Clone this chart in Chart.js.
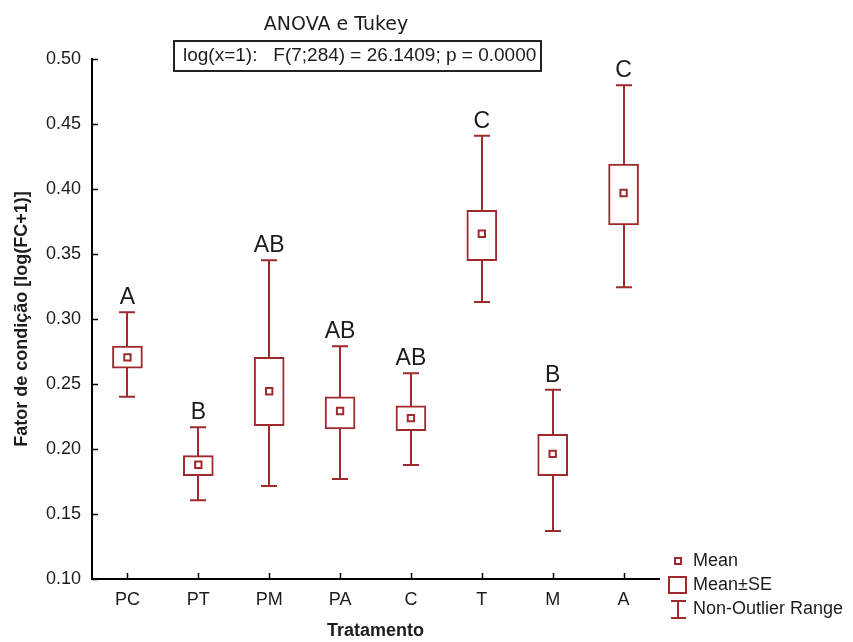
<!DOCTYPE html>
<html>
<head>
<meta charset="utf-8">
<script src="https://cdn.jsdelivr.net/npm/chart.js@4/dist/chart.umd.min.js"></script>
<style>
  html, body { margin: 0; padding: 0; background: #ffffff; }
  #wrap { width: 853px; height: 642px; position: relative; }
</style>
</head>
<body>
<div id="wrap"><canvas id="chart" width="853" height="642"></canvas></div>
<script>
// Treatments and summary statistics of the condition factor, log(FC+1)
const categories = ['PC', 'PT', 'PM', 'PA', 'C', 'T', 'M', 'A'];
const means      = [0.2705, 0.1879, 0.2444, 0.2292, 0.2238, 0.3656, 0.1962, 0.3969];
const seLow      = [0.2621, 0.1795, 0.2180, 0.2154, 0.2141, 0.3449, 0.1795, 0.3723];
const seHigh     = [0.2792, 0.1949, 0.2705, 0.2402, 0.2333, 0.3836, 0.2113, 0.4192];
const rangeLow   = [0.2402, 0.1605, 0.1715, 0.1769, 0.1877, 0.3131, 0.1369, 0.3244];
const rangeHigh  = [0.3052, 0.2167, 0.3452, 0.2790, 0.2582, 0.4410, 0.2456, 0.4798];
const tukeyGroups = ['A', 'B', 'AB', 'AB', 'AB', 'C', 'B', 'C'];
const yTicks     = [0.10, 0.15, 0.20, 0.25, 0.30, 0.35, 0.40, 0.45, 0.50];

const RED = '#9e2a2d';
const TEXT = '#1c1c1c';
const SANS = '"Liberation Sans", Arial, sans-serif';

// Non-outlier range whiskers, drawn behind the mean±SE boxes
const whiskerPlugin = {
  id: 'whiskers',
  beforeDatasetsDraw(chart) {
    const { ctx, scales: { x, y } } = chart;
    ctx.save();
    ctx.strokeStyle = RED;
    ctx.lineWidth = 2;
    categories.forEach((c, i) => {
      const cx = Math.round(x.getPixelForValue(i));
      const yTop = y.getPixelForValue(rangeHigh[i]);
      const yBot = y.getPixelForValue(rangeLow[i]);
      ctx.beginPath();
      ctx.moveTo(cx, yTop); ctx.lineTo(cx, yBot);
      ctx.moveTo(cx - 8, yTop); ctx.lineTo(cx + 8, yTop);
      ctx.moveTo(cx - 8, yBot); ctx.lineTo(cx + 8, yBot);
      ctx.stroke();
    });
    ctx.restore();
  },
  afterDatasetsDraw(chart) {
    const { ctx, scales: { x, y } } = chart;
    ctx.save();
    // Tukey group letters above each whisker
    ctx.fillStyle = TEXT;
    ctx.font = '23px ' + SANS;
    ctx.textAlign = 'center';
    ctx.textBaseline = 'alphabetic';
    categories.forEach((c, i) => {
      const cx = x.getPixelForValue(i);
      ctx.fillText(tukeyGroups[i], cx, y.getPixelForValue(rangeHigh[i]) - 8);
    });
    // inward tick marks
    ctx.strokeStyle = '#000';
    ctx.lineWidth = 1.5;
    const left = chart.chartArea.left;
    const bottom = chart.chartArea.bottom;
    yTicks.forEach(v => {
      const py = Math.round(y.getPixelForValue(v)) + 0.5;
      ctx.beginPath(); ctx.moveTo(left, py); ctx.lineTo(left + 6, py); ctx.stroke();
    });
    categories.forEach((c, i) => {
      const px = Math.round(x.getPixelForValue(i)) + 0.5;
      ctx.beginPath(); ctx.moveTo(px, bottom); ctx.lineTo(px, bottom - 6); ctx.stroke();
    });
    ctx.restore();
  }
};

// Header: title and the ANOVA result box; legend at the bottom right
const decorPlugin = {
  id: 'decor',
  afterDraw(chart) {
    const { ctx, chartArea } = chart;
    ctx.save();
    ctx.fillStyle = TEXT;
    ctx.textBaseline = 'middle';
    ctx.textAlign = 'center';
    ctx.font = '19px "DejaVu Sans", sans-serif';
    ctx.fillText('ANOVA e Tukey', 336, 25);

    ctx.strokeStyle = '#222';
    ctx.lineWidth = 2;
    ctx.strokeRect(174, 41, 367, 30);
    ctx.textAlign = 'left';
    ctx.font = '19px ' + SANS;
    ctx.fillText('log(x=1):   F(7;284) = 26.1409; p = 0.0000', 183, 56);

    // legend
    const lx = chartArea.right + 19;
    ctx.strokeStyle = RED;
    ctx.lineWidth = 2;
    ctx.strokeRect(lx - 3, 558, 6, 6);
    ctx.strokeRect(lx - 9, 577, 17, 16);
    ctx.beginPath();
    ctx.moveTo(lx, 601); ctx.lineTo(lx, 618);
    ctx.moveTo(lx - 7, 601); ctx.lineTo(lx + 8, 601);
    ctx.moveTo(lx - 7, 618); ctx.lineTo(lx + 8, 618);
    ctx.stroke();
    ctx.fillStyle = TEXT;
    ctx.font = '18px ' + SANS;
    ctx.fillText('Mean', lx + 15, 561);
    ctx.fillText('Mean\u00B1SE', lx + 15, 585);
    ctx.fillText('Non-Outlier Range', lx + 15, 609);
    ctx.restore();
  }
};

new Chart(document.getElementById('chart'), {
  data: {
    labels: categories,
    datasets: [
      {
        type: 'line',
        label: 'Mean',
        data: means,
        showLine: false,
        pointStyle: 'rect',
        pointRadius: 4.5,
        pointBorderWidth: 2,
        pointBorderColor: RED,
        pointBackgroundColor: '#ffffff',
        order: 0
      },
      {
        type: 'bar',
        label: 'Mean\u00B1SE',
        data: categories.map((c, i) => [seLow[i], seHigh[i]]),
        backgroundColor: '#ffffff',
        borderColor: RED,
        borderWidth: 2,
        borderSkipped: false,
        barThickness: 30,
        order: 1
      }
    ]
  },
  options: {
    responsive: false,
    animation: false,
    events: [],
    layout: { padding: { top: 59, right: 194, left: 0, bottom: 0 } },
    plugins: {
      legend: { display: false },
      tooltip: { enabled: false },
      title: { display: false }
    },
    scales: {
      x: {
        type: 'category',
        offset: true,
        grid: { display: false, drawTicks: false },
        border: { display: true, color: '#000', width: 2 },
        ticks: { color: TEXT, font: { family: SANS, size: 18 }, padding: 10 },
        title: {
          display: true,
          text: 'Tratamento',
          color: TEXT,
          font: { family: SANS, size: 18, weight: 'bold' },
          padding: { top: 0, bottom: 0 }
        },
        afterFit(scale) { scale.height = 63; }
      },
      y: {
        min: 0.10,
        max: 0.50,
        grid: { display: false, drawTicks: false },
        border: { display: true, color: '#000', width: 2 },
        afterBuildTicks(scale) { scale.ticks = yTicks.map(v => ({ value: v })); },
        ticks: {
          color: TEXT,
          font: { family: SANS, size: 18 },
          padding: 11,
          callback: v => Number(v).toFixed(2)
        },
        title: {
          display: true,
          text: 'Fator de condição [log(FC+1)]',
          color: TEXT,
          font: { family: SANS, size: 18, weight: 'bold' },
          padding: { top: 11, bottom: 0 }
        },
        afterFit(scale) { scale.width = 92; }
      }
    }
  },
  plugins: [whiskerPlugin, decorPlugin]
});
</script>
</body>
</html>
